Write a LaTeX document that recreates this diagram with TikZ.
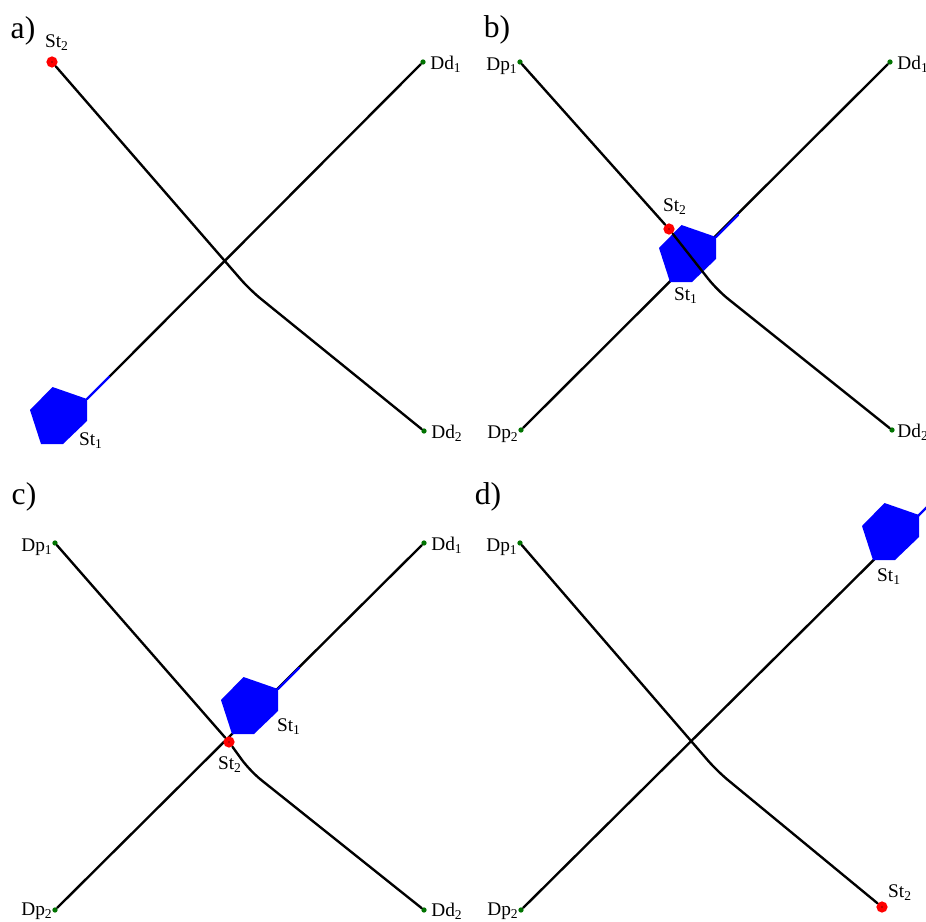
\documentclass[tikz,border=0pt]{standalone}
\usepackage{fontspec}
\setmainfont{Liberation Serif}
% blue vehicle body, anchored at its front corner
\newcommand{\vehicle}[1]{%
  \fill[blue] (#1) -- ++(0,22) -- ++(-24,23) -- ++(-22,0) -- ++(-11,-34)
    -- ++(22.5,-23) -- cycle;}
\begin{document}
\begin{tikzpicture}[x=0.02cm, y=-0.02cm, font=\fontsize{11}{13}\selectfont,
    line join=round, line cap=round,
    route/.style={line width=1.35pt, black, rounded corners=8pt},
    track/.style={line width=1.35pt, blue},
    endpt/.style={circle, fill=green!45!black, inner sep=0pt, minimum size=3pt},
    stpt/.style={circle, fill=red, inner sep=0pt, minimum size=6.4pt,
      path picture={\fill[black] (path picture bounding box.center) circle (0.4pt);}},
    lbl/.style={inner sep=0pt},
    tag/.style={font=\fontsize{18}{20}\selectfont, inner sep=0pt}]
    \useasboundingbox (0,0) rectangle (926,922);
    % a)
    \begin{scope}
        \node[tag] (a-tag) at (23,31) {a)};
        \coordinate (a-bend) at (250,290);
        \coordinate (a-st1) at (87,399);
        \coordinate (a-tip) at (109,377);
        \node[endpt] (a-dd1) at (423,62) {};
        \node[endpt] (a-dd2) at (424,431) {};
        \draw[route] (a-tip) -- (a-dd1);
        \vehicle{a-st1}
        \draw[track] (a-st1) -- (a-tip);
        \node[stpt] (a-st2) at (52,62) {};
        \draw[route] (a-st2) -- (a-bend) -- (a-dd2);
        \node[lbl] (a-st2-l) at (57,43) {St\textsubscript{2}};
        \node[lbl] (a-st1-l) at (91,441) {St\textsubscript{1}};
        \node[lbl] (a-dd1-l) at (446,64) {Dd\textsubscript{1}};
        \node[lbl] (a-dd2-l) at (447,433) {Dd\textsubscript{2}};
    \end{scope}
    % b)
    \begin{scope}[shift={(467,0)}]
        \node[tag] (b-tag) at (30,30) {b)};
        \coordinate (b-bend) at (250,290);
        \coordinate (b-st1) at (249,237);
        \coordinate (b-tip) at (271,215);
        \node[endpt] (b-dp1) at (53,62) {};
        \node[endpt] (b-dd1) at (423,62) {};
        \node[endpt] (b-dp2) at (54,430) {};
        \node[endpt] (b-dd2) at (425,430) {};
        \draw[route] (b-dp2) -- (b-dd1);
        \vehicle{b-st1}
        \draw[track] (b-st1) -- (b-tip);
        \node[stpt] (b-st2) at (202,229) {};
        \draw[route] (b-dp1) -- (b-st2);
        \draw[route] (b-st2) -- (b-bend) -- (b-dd2);
        \node[lbl] (b-st2-l) at (208,207) {St\textsubscript{2}};
        \node[lbl] (b-st1-l) at (219,296) {St\textsubscript{1}};
        \node[lbl] (b-dp1-l) at (35,66) {Dp\textsubscript{1}};
        \node[lbl] (b-dd1-l) at (446,64) {Dd\textsubscript{1}};
        \node[lbl] (b-dp2-l) at (36,434) {Dp\textsubscript{2}};
        \node[lbl] (b-dd2-l) at (446,432) {Dd\textsubscript{2}};
    \end{scope}
    % c)
    \begin{scope}[shift={(0,481)}]
        \node[tag] (c-tag) at (24,16) {c)};
        \coordinate (c-bend) at (250,290);
        \coordinate (c-st1) at (278,208);
        \coordinate (c-tip) at (299,187);
        \node[endpt] (c-dp1) at (55,62) {};
        \node[endpt] (c-dd1) at (424,62) {};
        \node[endpt] (c-dp2) at (55,429) {};
        \node[endpt] (c-dd2) at (424,429) {};
        \draw[route] (c-dp2) -- (c-dd1);
        \vehicle{c-st1}
        \draw[track] (c-st1) -- (c-tip);
        \node[stpt] (c-st2) at (229,261) {};
        \draw[route] (c-dp1) -- (c-st2);
        \draw[route] (c-st2) -- (c-bend) -- (c-dd2);
        \node[lbl] (c-st2-l) at (230,284) {St\textsubscript{2}};
        \node[lbl] (c-st1-l) at (289,246) {St\textsubscript{1}};
        \node[lbl] (c-dp1-l) at (37,66) {Dp\textsubscript{1}};
        \node[lbl] (c-dd1-l) at (447,64) {Dd\textsubscript{1}};
        \node[lbl] (c-dp2-l) at (37,430) {Dp\textsubscript{2}};
        \node[lbl] (c-dd2-l) at (447,430) {Dd\textsubscript{2}};
    \end{scope}
    % d)
    \begin{scope}[shift={(467,481)}]
        \node[tag] (d-tag) at (21,16) {d)};
        \coordinate (d-bend) at (250,290);
        \coordinate (d-st1) at (452,34);
        \coordinate (d-tip) at (474,12);
        \node[endpt] (d-dp1) at (53,62) {};
        \node[endpt] (d-dp2) at (54,429) {};
        \draw[route] (d-dp2) -- (d-st1);
        \vehicle{d-st1}
        \draw[track] (d-st1) -- (d-tip);
        \node[stpt] (d-st2) at (415,426) {};
        \draw[route] (d-dp1) -- (d-bend) -- (d-st2);
        \node[lbl] (d-st2-l) at (433,412) {St\textsubscript{2}};
        \node[lbl] (d-st1-l) at (422,96) {St\textsubscript{1}};
        \node[lbl] (d-dp1-l) at (35,66) {Dp\textsubscript{1}};
        \node[lbl] (d-dp2-l) at (36,430) {Dp\textsubscript{2}};
    \end{scope}
\end{tikzpicture}
\end{document}
